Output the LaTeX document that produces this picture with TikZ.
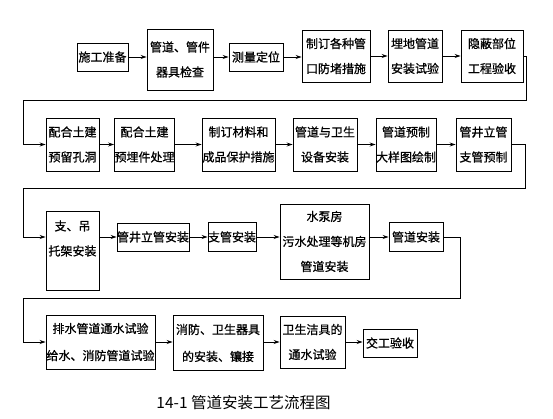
\documentclass[tikz,border=0pt]{standalone}
\usepackage{fontspec}
\newfontfamily\cjk{Noto Sans CJK SC}
\newfontfamily\cjkbox{Noto Sans CJK SC}[FakeBold=0.8]
\usetikzlibrary{positioning, calc, arrows.meta}

\begin{document}
\begin{tikzpicture}[x=1pt, y=-1pt,
    proc/.style={draw, line width=0.9pt, inner sep=0pt, align=center,
        font=\cjkbox\fontsize{12}{25}\selectfont},
    flow/.style={line width=0.9pt, -{Stealth[length=6pt,width=4pt]}}]
    \useasboundingbox (0,0) rectangle (553,419);

    % First row
    \node[proc, minimum width=51, minimum height=28] (A1) at (102.5,57) {施工准备};
    \node[proc, minimum width=66, minimum height=61] (A2) at (180,59.5) {管道、管件\\器具检查};
    \node[proc, minimum width=54, minimum height=28] (A3) at (256,57) {测量定位};
    \node[proc, minimum width=68, minimum height=52] (A4) at (336,56) {制订各种管\\口防堵措施};
    \node[proc, minimum width=54, minimum height=52] (A5) at (415,56) {埋地管道\\安装试验};
    \node[proc, minimum width=62, minimum height=52] (A6) at (492,56) {隐蔽部位\\工程验收};
    \draw[flow] (A1.east) -- (A1.east -| A2.west);
    \draw[flow] (A3.west -| A2.east) -- (A3.west);
    \draw[flow] (A3.east) -- (A3.east -| A4.west);
    \draw[flow] (A4.east) -- (A5.west);
    \draw[flow] (A5.east) -- (A6.west);

    % Second row
    \node[proc, minimum width=53, minimum height=53] (B1) at (72.5,144.5) {配合土建\\预留孔洞};
    \node[proc, minimum width=55, minimum height=53] (B2) at (144.5,144.5) {配合土建\\预埋件处理};
    \node[proc, minimum width=73, minimum height=53] (B3) at (238.5,144.5) {制订材料和\\成品保护措施};
    \node[proc, minimum width=64, minimum height=53] (B4) at (325,144.5) {管道与卫生\\设备安装};
    \node[proc, minimum width=60, minimum height=53] (B5) at (406,144.5) {管道预制\\大样图绘制};
    \node[proc, minimum width=55, minimum height=53] (B6) at (483.5,144.5) {管井立管\\支管预制};
    \coordinate (r1a) at (526,100);
    \coordinate (r1b) at (23,100);
    \draw[flow] (A6.east) -| (r1a) -- (r1b) |- (B1.west);
    \draw[flow] (B1.east) -- (B2.west);
    \draw[flow] (B2.east) -- (B3.west);
    \draw[flow] (B3.east) -- (B4.west);
    \draw[flow] (B4.east) -- (B5.west);
    \draw[flow] (B5.east) -- (B6.west);

    % Third row
    \node[proc, minimum width=53, minimum height=79] (C1) at (72.5,250.5) {支、吊\\托架安装\\~};
    \node[proc, minimum width=72, minimum height=28] (C2) at (153,237) {管井立管安装};
    \node[proc, minimum width=48, minimum height=29] (C3) at (232,237) {支管安装};
    \node[proc, minimum width=89, minimum height=75] (C4) at (324.5,241.5) {水泵房\\污水处理等机房\\管道安装};
    \node[proc, minimum width=54, minimum height=29] (C5) at (416,237) {管道安装};
    \coordinate (r2a) at (525,188);
    \coordinate (r2b) at (23,188);
    \draw[flow] (B6.east) -| (r2a) -- (r2b) |- (C1.west |- C2.west);
    \draw[flow] (C1.east |- C2.west) -- (C2.west);
    \draw[flow] (C2.east) -- (C3.west);
    \draw[flow] (C3.east) -- (C3.east -| C4.west);
    \draw[flow] (C5.west -| C4.east) -- (C5.west);

    % Fourth row
    \node[proc, minimum width=109, minimum height=54, font=\cjkbox\fontsize{12}{27}\selectfont] (D1) at (100.5,342) {排水管道通水试验\\给水、消防管道试验};
    \node[proc, minimum width=90, minimum height=55, font=\cjkbox\fontsize{12}{27}\selectfont] (D2) at (218,343) {消防、卫生器具\\的安装、镶接};
    \node[proc, minimum width=65, minimum height=52] (D3) at (312.5,342) {卫生洁具的\\通水试验};
    \node[proc, minimum width=54, minimum height=28] (D4) at (390,343) {交工验收};
    \coordinate (r3a) at (460,298);
    \coordinate (r3b) at (23,298);
    \draw[flow] (C5.east) -| (r3a) -- (r3b) |- (D1.west);
    \draw[flow] (D1.east) -- (D1.east -| D2.west);
    \draw[flow] (D2.east |- D1.east) -- (D3.west);
    \draw[flow] (D3.east) -- (D3.east -| D4.west);

    % Caption
    \node[font=\cjk\fontsize{15.5}{18}\selectfont] (cap) at (243.5,403) {14-1 管道安装工艺流程图};
\end{tikzpicture}
\end{document}
